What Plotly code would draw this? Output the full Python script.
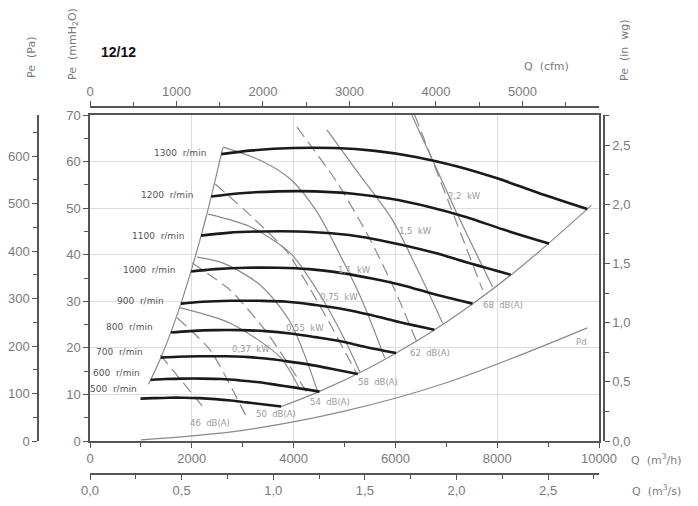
import plotly.graph_objects as go

# ---------------- data ----------------
speeds = [1300, 1200, 1100, 1000, 900, 800, 700, 600, 500]
speed_q = [
    [2580, 3200, 4000, 4800, 5600, 6400, 7200, 8000, 8800, 9770],
    [2382, 2954, 3692, 4431, 5169, 5908, 6646, 7385, 8123, 9018],
    [2183, 2708, 3385, 4062, 4738, 5415, 6092, 6769, 7446, 8267],
    [1985, 2462, 3077, 3692, 4308, 4923, 5538, 6154, 6769, 7515],
    [1786, 2215, 2769, 3323, 3877, 4431, 4985, 5538, 6092, 6764],
    [1588, 1969, 2462, 2954, 3446, 3938, 4431, 4923, 5415, 6012],
    [1389, 1723, 2154, 2585, 3015, 3446, 3877, 4308, 4738, 5261],
    [1191, 1477, 1846, 2215, 2585, 2954, 3323, 3692, 4062, 4509],
    [992, 1231, 1538, 1846, 2154, 2462, 2769, 3077, 3385, 3758],
]
speed_p = [
    [61.6, 62.4, 62.9, 62.9, 62.3, 61.0, 59.0, 56.4, 53.3, 49.8],
    [52.5, 53.2, 53.6, 53.6, 53.1, 52.0, 50.3, 48.1, 45.4, 42.4],
    [44.1, 44.7, 45.0, 45.0, 44.6, 43.7, 42.2, 40.4, 38.2, 35.7],
    [36.4, 36.9, 37.2, 37.2, 36.9, 36.1, 34.9, 33.4, 31.5, 29.5],
    [29.5, 29.9, 30.1, 30.1, 29.9, 29.2, 28.3, 27.0, 25.5, 23.9],
    [23.3, 23.6, 23.8, 23.8, 23.6, 23.1, 22.3, 21.4, 20.2, 18.9],
    [17.9, 18.1, 18.2, 18.2, 18.1, 17.7, 17.1, 16.4, 15.5, 14.4],
    [13.1, 13.3, 13.4, 13.4, 13.3, 13.0, 12.6, 12.0, 11.4, 10.6],
    [9.1, 9.2, 9.3, 9.3, 9.2, 9.0, 8.7, 8.3, 7.9, 7.4],
]
speed_label_q = [2323, 2068, 1891, 1715, 1499, 1284, 1088, 1029, 970]
speed_label_p = [61.8, 52.8, 44.0, 36.7, 30.1, 24.5, 19.1, 14.6, 11.2]

left_q = [1150, 1400, 1700, 2000, 2300, 2610]
left_p = [12.2, 18.1, 26.7, 37.0, 48.9, 63.0]
right_q = [3758, 4500, 5500, 6500, 7500, 8500, 9850]
right_p = [7.4, 10.6, 15.8, 22.0, 29.3, 37.7, 50.6]

pd_q = [1000, 3000, 5000, 7000, 9770]
pd_p = [0.25, 2.3, 6.4, 12.5, 24.3]

kw_labels = ["2,2 kW", "1,5 kW", "1,1 kW", "0,75 kW", "0,55 kW", "0,37 kW"]
kw_q = [
    [6321, 6732, 7203, 7908],
    [4655, 5302, 5929, 6439, 6929],
    [2617, 3342, 3930, 4459, 4910, 5341, 5792],
    [2323, 3146, 3930, 4518, 5008, 5302],
    [2107, 2617, 3342, 3930, 4478],
    [1774, 2754, 3734, 4126],
]
kw_p = [
    [70.0, 60.3, 49.0, 33.1],
    [66.8, 57.1, 47.7, 36.7, 25.3],
    [63.1, 60.3, 56.3, 49.2, 40.0, 30.3, 17.8],
    [48.7, 46.0, 40.4, 31.4, 21.7, 14.8],
    [39.5, 38.2, 33.5, 25.6, 10.5],
    [28.6, 25.3, 18.0, 11.0],
]
kw_label_q = [7350, 6400, 5200, 4900, 4220, 3160]
kw_label_p = [52.6, 45.1, 36.7, 31.0, 24.3, 19.8]

db_labels = ["68 dB(A)", "62 dB(A)", "58 dB(A)", "54 dB(A)", "50 dB(A)", "46 dB(A)"]
db_q = [
    [6380, 7046, 7713],
    [4067, 4851, 5498, 5988, 6419],
    [2460, 3146, 3871, 4616, 5243],
    [2009, 2754, 3440, 4283],
    [1715, 2362, 3087],
    [1382, 2264],
]
db_p = [
    [70.0, 51.3, 32.4],
    [67.4, 55.6, 43.4, 32.4, 21.3],
    [55.2, 48.5, 40.6, 27.1, 14.4],
    [38.2, 32.4, 23.8, 10.1],
    [26.4, 19.5, 4.9],
    [18.5, 6.7],
]
db_label_q = [8120, 6670, 5650, 4710, 3660, 2360]
db_label_p = [29.2, 18.8, 12.7, 8.4, 5.8, 3.9]

q_ticks = [0, 2000, 4000, 6000, 8000, 10000]
q_text = ["0", "2000", "4000", "6000", "8000", "10000"]
cfm_ticks = [0, 1000, 2000, 3000, 4000, 5000]
m3s_ticks = [0, 0.5, 1.0, 1.5, 2.0, 2.5]
m3s_text = ["0,0", "0,5", "1,0", "1,5", "2,0", "2,5"]
pa_ticks = [0, 100, 200, 300, 400, 500, 600]
mm_ticks = [0, 10, 20, 30, 40, 50, 60, 70]
inwg_ticks = [0, 0.5, 1.0, 1.5, 2.0, 2.5]
inwg_text = ["0,0", "0,5", "1,0", "1,5", "2,0", "2,5"]

# ---------------- figure ----------------
GRAY = "#8a8a8a"
TXT = "#7a7a7a"
AX = "#555555"
fig = go.Figure()

for q, p in zip(kw_q, kw_p):
    fig.add_trace(go.Scatter(x=q, y=p, mode="lines", line=dict(color=GRAY, width=1.2, shape="spline", smoothing=0.8),
                             hoverinfo="skip"))
for q, p in zip(db_q, db_p):
    fig.add_trace(go.Scatter(x=q, y=p, mode="lines", line=dict(color=GRAY, width=1.2, dash="12px,6px", shape="spline", smoothing=0.6),
                             hoverinfo="skip"))
fig.add_trace(go.Scatter(x=left_q, y=left_p, mode="lines", line=dict(color=GRAY, width=1.2, shape="spline")))
fig.add_trace(go.Scatter(x=right_q, y=right_p, mode="lines", line=dict(color=GRAY, width=1.2, shape="spline")))
fig.add_trace(go.Scatter(x=pd_q, y=pd_p, mode="lines", line=dict(color=GRAY, width=1.2, shape="spline")))
for q, p in zip(speed_q, speed_p):
    fig.add_trace(go.Scatter(x=q, y=p, mode="lines", line=dict(color="#1a1a1a", width=2.6, shape="spline"),
                             hoverinfo="skip"))

# dummy traces to activate secondary axes
fig.add_trace(go.Scatter(x=[0], y=[0], xaxis="x2", yaxis="y", mode="markers", marker=dict(opacity=0)))
fig.add_trace(go.Scatter(x=[0], y=[0], xaxis="x3", yaxis="y", mode="markers", marker=dict(opacity=0)))
fig.add_trace(go.Scatter(x=[0], y=[0], xaxis="x", yaxis="y2", mode="markers", marker=dict(opacity=0)))
fig.add_trace(go.Scatter(x=[0], y=[0], xaxis="x", yaxis="y3", mode="markers", marker=dict(opacity=0)))

ann = []
LBL = dict(family="DejaVu Sans", size=9, color="#555555")
for s, q, p in zip(speeds, speed_label_q, speed_label_p):
    ann.append(dict(x=q, y=p, xref="x", yref="y", text=f"{s}  r/min", showarrow=False,
                    xanchor="right", yanchor="middle", font=LBL))
SL = dict(family="DejaVu Sans", size=8.5, color="#9a9a9a")
for t, q, p in zip(kw_labels, kw_label_q, kw_label_p):
    ann.append(dict(x=q, y=p, text=t.replace(" ", "  "), showarrow=False, font=SL,
                    xanchor="center", yanchor="middle"))
for t, q, p in zip(db_labels, db_label_q, db_label_p):
    ann.append(dict(x=q, y=p, text=t.replace(" ", "  "), showarrow=False, font=SL,
                    xanchor="center", yanchor="middle"))
ann.append(dict(x=pd_q[-1], y=pd_p[-1], text="Pd", showarrow=False, font=SL, xanchor="center",
                yanchor="middle", yshift=-14, xshift=-6))

TT = dict(family="DejaVu Sans", size=11, color=TXT)
titles = [
    dict(x=32, y=58, text="Pe  (Pa)", textangle=-90, font=TT),
    dict(x=73, y=44, text="Pe  (mmH<sub>2</sub>O)", textangle=-90, font=TT),
    dict(x=624, y=50, text="Pe  (in  wg)", textangle=-90, font=TT),
    dict(x=546, y=67, text="Q  (cfm)", font=TT),
    dict(x=656, y=459, text="Q  (m<sup>3</sup>/h)", font=TT),
    dict(x=656, y=491, text="Q  (m<sup>3</sup>/s)", font=TT),
    dict(x=118, y=52, text="<b>12/12</b>", font=dict(family="Liberation Sans", size=14, color="#111")),
]
PL, PR, PT, PB = 38, 604, 107, 474
for a in titles:
    a["x"] = (a["x"] - PL) / (PR - PL)
    a["y"] = (PB - a["y"]) / (PB - PT)
    a["xref"] = "paper"
    a["yref"] = "paper"
    a["xanchor"] = "center"
    a["yanchor"] = "middle"
    a["showarrow"] = False
ann += titles

TF = dict(family="Liberation Sans", size=13, color=TXT)
xdom = [(90 - PL) / (PR - PL), (599 - PL) / (PR - PL)]
ydom = [(PB - 441) / (PB - PT), (PB - 115) / (PB - PT)]

fig.update_layout(
    width=698, height=506, margin=dict(l=PL, r=698 - PR, t=PT, b=506 - PB, autoexpand=False),
    paper_bgcolor="white", plot_bgcolor="white", showlegend=False, annotations=ann,
    xaxis=dict(domain=xdom, range=[0, 10000], anchor="y", tickvals=q_ticks, ticktext=q_text, ticks="outside", ticklen=5,
               tickcolor=AX, showline=True, linecolor=AX, linewidth=1.5, mirror=True, showgrid=True,
               gridcolor="#dcdcdc", zeroline=False, tickfont=TF, automargin=False,
               minor=dict(dtick=1000, ticks="outside", ticklen=4, tickcolor=AX, showgrid=False)),
    yaxis=dict(domain=ydom, range=[0, 70], anchor="x", tickvals=mm_ticks, ticks="outside", ticklen=5,
               tickcolor=AX, showline=True, linecolor=AX, linewidth=1.5, mirror=True, showgrid=True,
               gridcolor="#dcdcdc", zeroline=False, tickfont=TF, automargin=False,
               minor=dict(dtick=5, ticks="outside", ticklen=4, tickcolor=AX, showgrid=False)),
    xaxis2=dict(domain=xdom, range=[0, 10000 / 1.699], overlaying="x", side="top", anchor="free", position=1,
                tickvals=cfm_ticks, ticks="outside", ticklen=5, tickcolor=AX, showline=True, linecolor=AX,
                linewidth=1.5, showgrid=False, zeroline=False, tickfont=TF, automargin=False,
                minor=dict(dtick=500, ticks="outside", ticklen=4, tickcolor=AX)),
    xaxis3=dict(domain=xdom, range=[0, 10000 / 3600], overlaying="x", side="bottom", anchor="free", position=0,
                tickvals=m3s_ticks, ticktext=m3s_text, ticks="outside", ticklen=5, tickcolor=AX, showline=True,
                linecolor=AX, linewidth=1.5, showgrid=False, zeroline=False, tickfont=TF, automargin=False,
                minor=dict(dtick=0.25, ticks="outside", ticklen=4, tickcolor=AX)),
    yaxis2=dict(domain=ydom, range=[0, 70 * 9.80665], overlaying="y", side="left", anchor="free", position=0,
                tickvals=pa_ticks, ticks="outside", ticklen=5, tickcolor=AX, showline=True, linecolor=AX,
                linewidth=1.5, showgrid=False, zeroline=False, tickfont=TF, automargin=False,
                minor=dict(dtick=50, ticks="outside", ticklen=4, tickcolor=AX)),
    yaxis3=dict(domain=ydom, range=[0, 70 / 25.4], overlaying="y", side="right", anchor="free", position=1,
                tickvals=inwg_ticks, ticktext=inwg_text, ticks="outside", ticklen=5, tickcolor=AX, showline=True,
                linecolor=AX, linewidth=1.5, showgrid=False, zeroline=False, tickfont=TF, automargin=False,
                minor=dict(dtick=0.25, ticks="outside", ticklen=4, tickcolor=AX)),
)

fig.write_html("out.html", config={"displayModeBar": False},
               post_script="document.body.style.margin='0px';")
